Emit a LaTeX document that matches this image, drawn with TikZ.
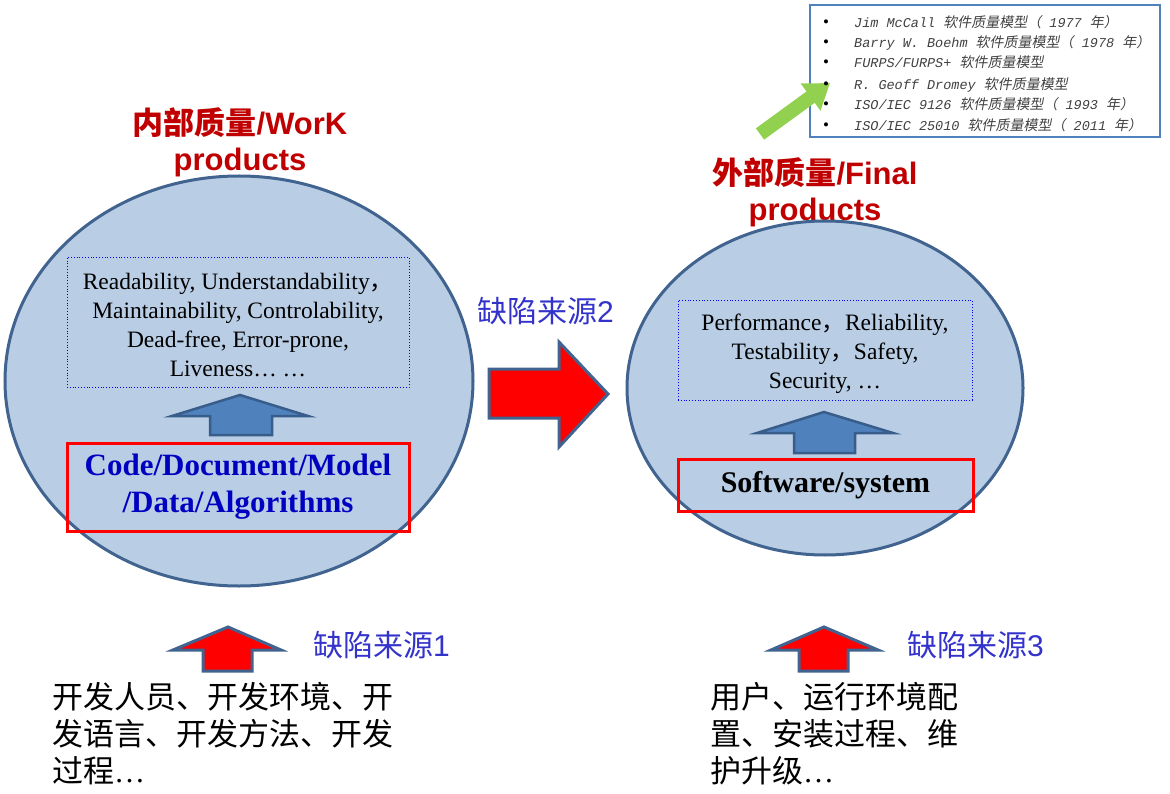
\documentclass[tikz,border=0pt]{standalone}
\usepackage{fontspec}
\setmainfont{Liberation Serif}
\newfontfamily\cjk{Noto Sans CJK SC}
\newfontfamily\cjkit[FakeSlant=0.18]{Noto Sans CJK SC}
\newfontfamily\arial{Liberation Sans}
\newfontfamily\qmono{Liberation Mono}
\usetikzlibrary{shapes.geometric,arrows.meta}
\definecolor{ellfill}{RGB}{185,205,229}
\definecolor{ellline}{RGB}{65,99,143}
\definecolor{blkfill}{RGB}{79,129,189}
\definecolor{blkline}{RGB}{56,93,138}
\definecolor{ttl}{RGB}{192,0,0}
\definecolor{src}{RGB}{51,51,204}
\definecolor{codeblue}{RGB}{0,0,192}
\definecolor{grn}{RGB}{146,208,80}
\definecolor{listline}{RGB}{79,129,189}
\definecolor{listtext}{RGB}{64,64,64}
\newcommand\lc[1]{{\cjkit\fontsize{14}{16}\selectfont #1}}
\newcommand\lm[1]{{\qmono\itshape\fontsize{13.5}{16}\selectfont #1}}
\newcommand\bul{\makebox[31pt][l]{\color{black}\fontsize{17}{16}\selectfont\textbullet}}
\begin{document}
\begin{tikzpicture}[x=1pt,y=-1pt,
 bubble/.style={ellipse, draw=ellline, fill=ellfill, line width=3pt, inner sep=0},
 dotbox/.style={draw=blue, dotted, line width=0.8pt, inner sep=0},
 qtext/.style={align=center, inner sep=0, font=\fontsize{23.5}{29}\selectfont},
 redbox/.style={draw=red, line width=3pt, align=center, inner sep=0},
 blueblk/.style={fill=blkfill, draw=blkline, line width=2.5pt, line join=miter},
 redblk/.style={fill=red, draw=ellline, line width=3pt, line join=miter},
 ttlstyle/.style={text=ttl, align=center, inner sep=0, font=\fontsize{31}{36}\selectfont\bfseries},
 srclbl/.style={text=src, anchor=west, inner sep=0, font=\fontsize{30}{36}\selectfont},
 cjkline/.style={anchor=west, inner sep=0, font=\cjk\fontsize{31}{37}\selectfont},
 litem/.style={anchor=base west, inner sep=0, text=listtext},
]
\useasboundingbox (0,0) rectangle (1170,794);

% titles
\node[ttlstyle] (t1) at (240,142) {{\cjk 内部质量}{\arial /WorK}\\{\arial products}};
\node[ttlstyle] (t2) at (815,192) {{\cjk 外部质量}{\arial /Final}\\{\arial products}};

% bubbles
\node[bubble, minimum width=468pt, minimum height=410pt] (e1) at (239,381) {};
\node[bubble, minimum width=396pt, minimum height=334pt] (e2) at (825,388) {};

% quality boxes
\node[dotbox, minimum width=342pt, minimum height=130pt] (q1) at (238,322) {};
\node[qtext] (q1t) at (238,325)
 {Readability, Understandability{\cjk ，}\\Maintainability, Controlability,\\Dead-free, Error-prone,\\Liveness… …};
\node[dotbox, minimum width=294pt, minimum height=100pt] (q2) at (825,350) {};
\node[qtext] (q2t) at (825,354)
 {Performance{\cjk ，}Reliability,\\Testability{\cjk ，}Safety,\\Security, …};

% artefact boxes
\node[redbox, minimum width=342pt, minimum height=88pt, text=codeblue, font=\fontsize{31}{37}\selectfont\bfseries] (c1) at (238,487) {Code/Document/Model\\/Data/Algorithms};
\node[redbox, minimum width=295pt, minimum height=52pt, font=\fontsize{30}{34}\selectfont\bfseries] (c2) at (825.5,485) {Software/system};

% blue block arrows
\draw[blueblk] (240,395) -- (308,416) -- (272,416) -- (272,435) -- (210,435) -- (210,416) -- (172,416) -- cycle;
\draw[blueblk] (824,412) -- (893,433) -- (855,433) -- (855,453) -- (794,453) -- (794,433) -- (757,433) -- cycle;

% red block arrows
\draw[redblk] (489,369) -- (559,369) -- (559,342) -- (608,394) -- (559,447) -- (559,418) -- (489,418) -- cycle;
\draw[redblk] (228,627) -- (281,650) -- (252,650) -- (252,671) -- (203,671) -- (203,650) -- (173,650) -- cycle;
\draw[redblk] (824,627) -- (878,650) -- (848,650) -- (848,671) -- (799,671) -- (799,650) -- (771,650) -- cycle;

% source labels
\node[srclbl] (s2) at (477,311) {{\cjk 缺陷来源}{\arial 2}};
\node[srclbl] (s1) at (313,645) {{\cjk 缺陷来源}{\arial 1}};
\node[srclbl] (s3) at (907,645) {{\cjk 缺陷来源}{\arial 3}};

% bottom texts
\node[cjkline] (d1) at (52,697) {开发人员、开发环境、开};
\node[cjkline] (d2) at (52,734) {发语言、开发方法、开发};
\node[cjkline] (d3) at (52,771) {过程{\rmfamily …}};
\node[cjkline] (u1) at (710,697) {用户、运行环境配};
\node[cjkline] (u2) at (710,734) {置、安装过程、维};
\node[cjkline] (u3) at (710,771) {护升级{\rmfamily …}};

% model list box
\node[draw=listline, line width=1.5pt, minimum width=350pt, minimum height=132pt, inner sep=0] (lb) at (985,71) {};

% green pointer
\coordinate (g0) at (760,134);
\coordinate (g1) at (830,83);
\draw[grn, line width=14pt, -{Triangle[width=32pt,length=24pt]}] (g0) -- (g1);

% model list
\node[litem] (l1) at (823,28) {\bul\lm{Jim McCall }\lc{软件质量模型（}\lm{ 1977 }\lc{年）}};
\node[litem] (l2) at (823,48) {\bul\lm{Barry W. Boehm }\lc{软件质量模型（}\lm{ 1978 }\lc{年）}};
\node[litem] (l3) at (823,68) {\bul\lm{FURPS/FURPS+ }\lc{软件质量模型}};
\node[litem] (l4) at (823,90) {\bul\lm{R. Geoff Dromey }\lc{软件质量模型}};
\node[litem] (l5) at (823,110) {\bul\lm{ISO/IEC 9126 }\lc{软件质量模型（}\lm{ 1993 }\lc{年）}};
\node[litem] (l6) at (823,131) {\bul\lm{ISO/IEC 25010 }\lc{软件质量模型（}\lm{ 2011 }\lc{年）}};
\end{tikzpicture}
\end{document}
